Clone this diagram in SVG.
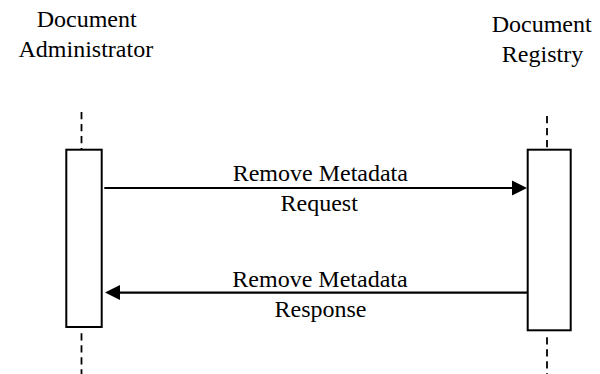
<svg xmlns="http://www.w3.org/2000/svg" width="600" height="374" viewBox="0 0 600 374">
<g id="admin">
<text x="86.7" y="26.7" font-family="Liberation Serif" font-size="24" text-anchor="middle">Document</text>
<text x="85.8" y="57.3" font-family="Liberation Serif" font-size="24" text-anchor="middle">Administrator</text>
<g stroke="#000" stroke-width="1.8" stroke-dasharray="7.3 4.7" fill="none">
<line x1="81.5" y1="112" x2="81.5" y2="149.7"/>
<line x1="81.5" y1="333.3" x2="81.5" y2="374"/>
</g>
<rect x="66.3" y="149.7" width="35.4" height="177.3" fill="#fff" stroke="#000" stroke-width="2"/>
</g>
<g id="registry">
<text x="541.7" y="31.7" font-family="Liberation Serif" font-size="24" text-anchor="middle">Document</text>
<text x="542.5" y="62.3" font-family="Liberation Serif" font-size="24" text-anchor="middle">Registry</text>
<g stroke="#000" stroke-width="1.8" stroke-dasharray="7.3 4.7" fill="none">
<line x1="547" y1="116" x2="547" y2="149.7"/>
<line x1="547" y1="337.3" x2="547" y2="374"/>
</g>
<rect x="527.7" y="149.7" width="43" height="180.6" fill="#fff" stroke="#000" stroke-width="2"/>
</g>
<g id="connectors">
<g id="request">
<line x1="104.3" y1="188" x2="513" y2="188" stroke="#000" stroke-width="2.2"/>
<polygon points="512,180.5 527,188 512,195.5" fill="#000"/>
<text x="320.3" y="180.7" font-family="Liberation Serif" font-size="24" text-anchor="middle">Remove Metadata</text>
<text x="319.2" y="211" font-family="Liberation Serif" font-size="24" text-anchor="middle">Request</text>
</g>
<g id="response">
<line x1="527" y1="292.6" x2="119" y2="292.6" stroke="#000" stroke-width="2.2"/>
<polygon points="120,285.1 105,292.6 120,300.1" fill="#000"/>
<text x="320" y="286.7" font-family="Liberation Serif" font-size="24" text-anchor="middle">Remove Metadata</text>
<text x="320.5" y="317.3" font-family="Liberation Serif" font-size="24" text-anchor="middle">Response</text>
</g>
</g>
</svg>
